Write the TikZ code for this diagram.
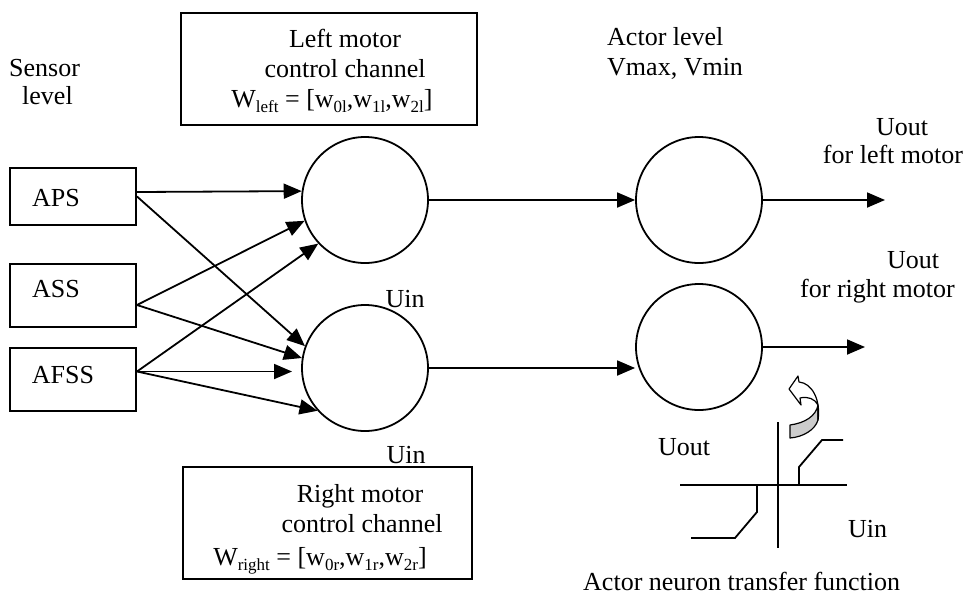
\documentclass[tikz,border=0pt]{standalone}
\usepackage{fontspec}
\setmainfont{Liberation Serif}
\usetikzlibrary{arrows.meta}
\definecolor{ribbon}{RGB}{204,204,204}
% subscript set smaller and lowered
\newcommand\lowsub[1]{\raisebox{-0.2em}{\fontsize{17}{17}\selectfont #1}}
\begin{document}
\begin{tikzpicture}[x=1pt,y=-1pt,
  every node/.style={font=\fontsize{26}{30}\selectfont, inner sep=0pt},
  lbl/.style={anchor=base},
  lblw/.style={anchor=base west},
  sensorbox/.style={draw, line width=2pt, minimum width=126pt},
  chanbox/.style={draw, line width=2pt},
  neuron/.style={draw, circle, line width=1.8pt, minimum size=126pt},
  link/.style={line width=1.8pt, -{Triangle[length=18pt,width=15pt]}},
  axis/.style={line width=1.8pt},
]
\useasboundingbox (0,0) rectangle (968,595);

% sensor level
\node[lblw] (sens1) at (9,76) {Sensor};
\node[lblw] (sens2) at (22,104) {level};
\node[sensorbox, minimum height=57pt] (aps) at (73,196.5) {};
\node[sensorbox, minimum height=63pt] (ass) at (73,295.5) {};
\node[sensorbox, minimum height=63pt] (afss) at (73,379.5) {};
\node[lbl] (apst) at (56,206) {APS};
\node[lbl] (asst) at (56,297) {ASS};
\node[lbl] (afsst) at (63,383) {AFSS};

% control channel boxes
\node[chanbox, minimum width=296pt, minimum height=112pt] (leftch) at (329,69) {};
\node[lbl] (lc1) at (345,47) {Left motor};
\node[lbl] (lc2) at (345,77) {control channel};
\node[lbl] (lc3) at (332,107) {W\lowsub{left} = [w\lowsub{0l},w\lowsub{1l},w\lowsub{2l}]};

\node[chanbox, minimum width=289pt, minimum height=112pt] (rightch) at (327.5,523) {};
\node[lbl] (rc1) at (360,502) {Right motor};
\node[lbl] (rc2) at (362,532) {control channel};
\node[lbl] (rc3) at (320,565) {W\lowsub{right} = [w\lowsub{0r},w\lowsub{1r},w\lowsub{2r}]};

% neurons
\node[neuron] (nl) at (365,200) {};
\node[neuron] (nr) at (365,368) {};
\node[neuron] (al) at (699,200) {};
\node[neuron] (ar) at (699,347) {};
\node[lbl] (uin1) at (405,307) {Uin};
\node[lbl] (uin2) at (406,463) {Uin};

% actor level labels
\node[lblw] (act1) at (607,45) {Actor level};
\node[lblw] (act2) at (607,75) {Vmax, Vmin};
\node[lbl] (uo1) at (902,135) {Uout};
\node[lbl] (uo1b) at (893,163) {for left motor};
\node[lbl] (uo2) at (913,268) {Uout};
\node[lbl] (uo2b) at (877.5,297) {for right motor};

% sensor to channel links
\coordinate (afssend) at (292,371.5);
\draw[link] ([yshift=4.5pt]aps.east) -- (nl.172.6);
\draw[link] (aps.east) -- (nr.160.7);
\draw[link] ([yshift=-9.5pt]ass.east) -- (nl.199.3);
\draw[link] ([yshift=-9.5pt]ass.east) -- (nr.171);
\draw[link] ([yshift=8pt]afss.east) -- (nl.223.7);
\draw[link] ([yshift=8pt]afss.east) -- (afssend);
\draw[link] ([yshift=8pt]afss.east) -- (nr.222.4);

% channel to actor links and outputs
\coordinate (outl) at (885,200);
\coordinate (outr) at (865,347);
\draw[link] (nl.east) -- (al.west);
\draw[link] (nr.east) -- (nr.east -| al.west);
\draw[link] (al.east) -- (outl);
\draw[link] (ar.east) -- (outr);

% transfer function sketch
\draw[axis] (680,485) -- (847,485);
\draw[axis] (778,422) -- (778,548);
\draw[axis] (799,485) -- (799,467) -- (822,440) -- (843,440);
\draw[axis] (757,485) -- (757,512) -- (735,538) -- (691,538);
\node[lbl] (tfuout) at (684,455) {Uout};
\node[lblw] (tfuin) at (848,537) {Uin};
\node[lblw] (tfcap) at (583,590) {Actor neuron transfer function};

% curved arrow above the sketch
\draw[line width=1.2pt, line join=round, fill=ribbon]
  (790,425) .. controls (805,423) and (816,416) .. (818,405)
  -- (818,420) .. controls (815,430) and (803,437) .. (790,438) -- cycle;
\draw[line width=1.2pt, line join=round, fill=white]
  (818,420) .. controls (821,400) and (812,383) .. (799,382)
  -- (798,376) -- (789,389) -- (801,405) -- (800,398)
  .. controls (808,396) and (815,399) .. (818,405) -- cycle;
\end{tikzpicture}
\end{document}
